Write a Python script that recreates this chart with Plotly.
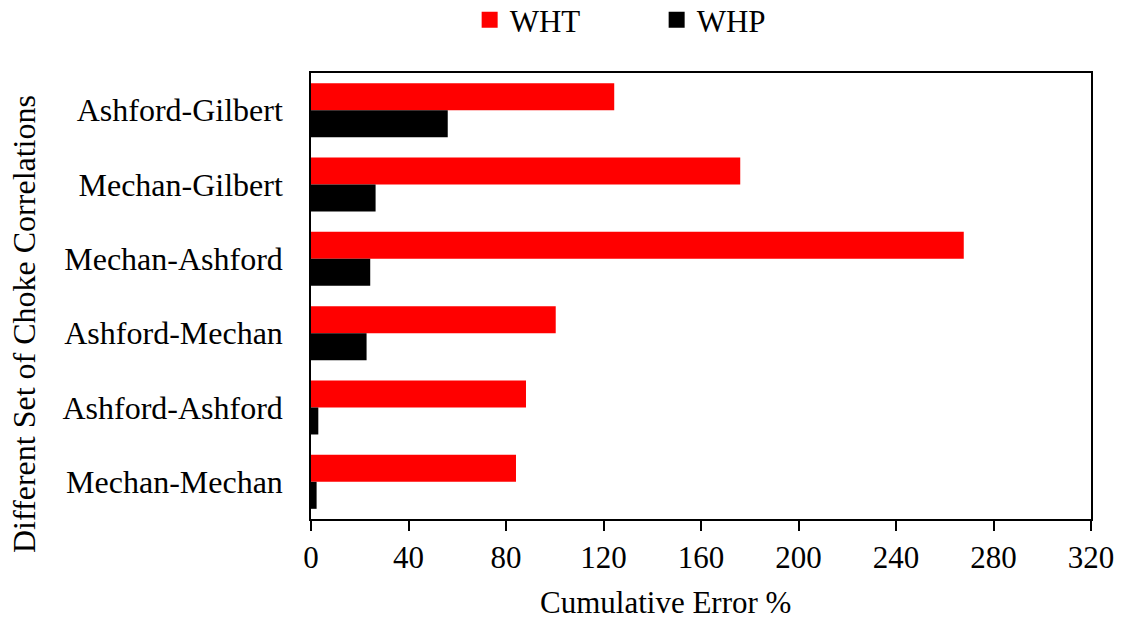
import plotly.graph_objects as go

categories = ["Ashford-Gilbert", "Mechan-Gilbert", "Mechan-Ashford",
              "Ashford-Mechan", "Ashford-Ashford", "Mechan-Mechan"]
wht = [124.4, 176.1, 267.8, 100.4, 88.2, 84.1]
whp = [56.1, 26.5, 24.3, 22.8, 3.0, 2.3]
x_ticks = [0, 40, 80, 120, 160, 200, 240, 280, 320]
series_names = ["WHT", "WHP"]
series_colors = ["#ff0000", "#000000"]

FONT = "Liberation Serif, Times New Roman, serif"

fig = go.Figure()
for name, vals, col in zip(series_names, [wht, whp], series_colors):
    fig.add_trace(go.Bar(y=categories, x=vals, name=name, orientation="h",
                         marker=dict(color=col, line=dict(width=0)),
                         showlegend=False))
# legend entries with larger square swatches
for name, col in zip(series_names, series_colors):
    fig.add_trace(go.Scatter(x=[None], y=[None], mode="markers", name=name,
                             marker=dict(symbol="square", size=16, color=col),
                             showlegend=True))

fig.update_layout(
    width=1125, height=621,
    margin=dict(l=311, r=34, t=73, b=102, autoexpand=False),
    paper_bgcolor="white", plot_bgcolor="white",
    font=dict(family=FONT, size=31, color="black"),
    barmode="group", bargap=0.274, bargroupgap=0,
    showlegend=True,
    legend=dict(orientation="h", x=0.2034, y=1.1185, xanchor="left", yanchor="middle",
                font=dict(size=31), itemwidth=30, entrywidth=142, entrywidthmode="pixels",
                bgcolor="rgba(0,0,0,0)"),
    xaxis=dict(range=[0, 320], tickvals=x_ticks, ticktext=[str(v) for v in x_ticks],
               showline=True, linecolor="black", linewidth=1.5, mirror=True,
               ticks="outside", ticklen=10, tickwidth=1.5, tickcolor="black",
               showgrid=False, zeroline=False, automargin=False,
               tickfont=dict(size=31)),
    yaxis=dict(categoryorder="array", categoryarray=categories, autorange="reversed",
               showline=True, linecolor="black", linewidth=1.5, mirror=True,
               ticks="", ticklabelstandoff=20, showgrid=False, zeroline=False,
               automargin=False, tickfont=dict(size=32)),
    annotations=[
        dict(text="Cumulative Error %", xref="paper", yref="paper",
             x=(665 - 311) / 780, y=-(602 - 519) / 446, xanchor="center", yanchor="middle",
             showarrow=False, font=dict(size=31)),
        dict(text="Different Set of Choke Correlations", xref="paper", yref="paper",
             x=-(311 - 24) / 780, y=(519 - 324) / 446, xanchor="center", yanchor="middle",
             textangle=-90, showarrow=False, font=dict(size=32)),
    ],
)

fig.write_html("out.html", config={"displayModeBar": False},
               post_script="document.body.style.margin='0';document.body.style.overflow='hidden';")
